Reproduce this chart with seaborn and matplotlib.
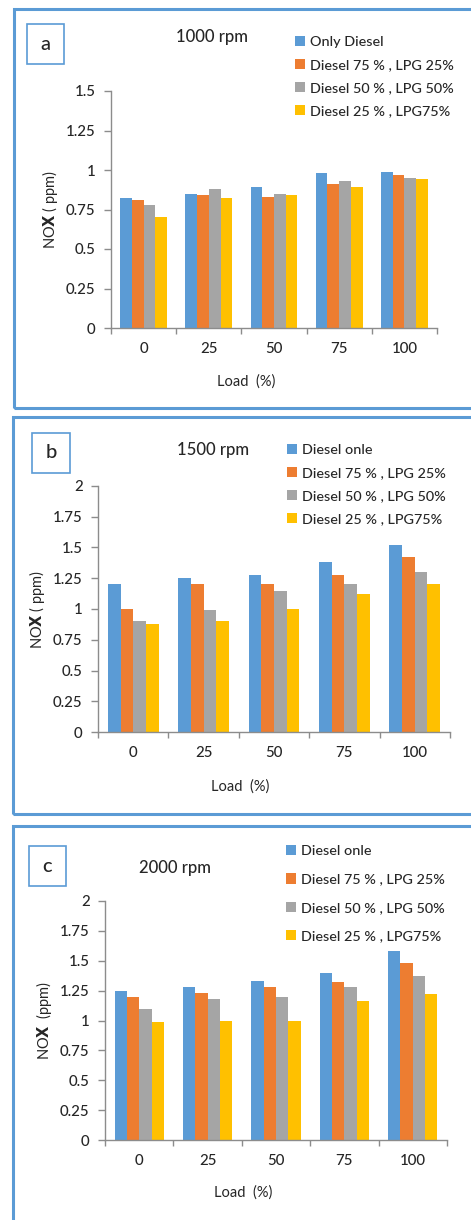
import seaborn as sns
import matplotlib.pyplot as plt
import pandas as pd
from matplotlib.patches import Rectangle
from matplotlib.ticker import FuncFormatter, FixedLocator

# Load categories on the x axis
loads = ['0', '25', '50', '75', '100']

# Series names (panel a uses a different first label)
labels_a = ['Only Diesel', 'Diesel 75 % , LPG 25%', 'Diesel 50 % , LPG 50%', 'Diesel 25 % , LPG75%']
labels_bc = ['Diesel onle', 'Diesel 75 % , LPG 25%', 'Diesel 50 % , LPG 50%', 'Diesel 25 % , LPG75%']

# NOx (ppm), 1000 rpm
nox_1000_diesel = [0.82, 0.85, 0.89, 0.98, 0.99]
nox_1000_d75 = [0.81, 0.84, 0.83, 0.91, 0.97]
nox_1000_d50 = [0.78, 0.88, 0.85, 0.93, 0.95]
nox_1000_d25 = [0.70, 0.82, 0.84, 0.89, 0.94]

# 1500 rpm
nox_1500_diesel = [1.20, 1.25, 1.28, 1.38, 1.52]
nox_1500_d75 = [1.00, 1.20, 1.20, 1.28, 1.42]
nox_1500_d50 = [0.90, 0.99, 1.15, 1.20, 1.30]
nox_1500_d25 = [0.88, 0.90, 1.00, 1.12, 1.20]

# 2000 rpm
nox_2000_diesel = [1.25, 1.28, 1.33, 1.40, 1.58]
nox_2000_d75 = [1.20, 1.23, 1.28, 1.32, 1.48]
nox_2000_d50 = [1.10, 1.18, 1.20, 1.28, 1.37]
nox_2000_d25 = [0.99, 1.00, 1.00, 1.16, 1.22]

colors = ['#5B9BD5', '#ED7D31', '#A5A5A5', '#FFC000']
box_blue = '#5B9BD5'
txt = '#262626'

sns.set_style("white")
plt.rcParams['font.family'] = ['Lato', 'DejaVu Sans']
plt.rcParams['font.weight'] = 'medium'
plt.rcParams['mathtext.fontset'] = 'custom'
plt.rcParams['mathtext.rm'] = 'Lato:medium'
plt.rcParams['mathtext.bf'] = 'DejaVu Sans:bold'

W, H = 471, 1220
fig = plt.figure(figsize=(W / 100, H / 100), dpi=100)


def fx(x):
    return x / W


def fy(y):
    return 1 - y / H


def long_df(series, labels):
    rows = []
    for vals, lab in zip(series, labels):
        for ld, v in zip(loads, vals):
            rows.append({'Load': ld, 'Fuel': lab, 'NOx': v})
    return pd.DataFrame(rows)


panels = [
    dict(series=[nox_1000_diesel, nox_1000_d75, nox_1000_d50, nox_1000_d25], labels=labels_a,
         ax=(111, 91, 437, 328), ymax=1.5, title='1000 rpm', title_xy=(212, 37),
         tag='a', tag_box=(27, 24, 64, 64), leg_xy=(295, 36), leg_space=0.75,
         ylabel=r'NO$\mathbf{X}$ ( ppm)', xlab_xy=(246, 382),
         frame=(14, 9, 560, 408)),
    dict(series=[nox_1500_diesel, nox_1500_d75, nox_1500_d50, nox_1500_d25], labels=labels_bc,
         ax=(98, 486, 450, 732), ymax=2.0, title='1500 rpm', title_xy=(213, 450),
         tag='b', tag_box=(32, 433, 70, 473), leg_xy=(287, 444), leg_space=0.75,
         ylabel=r'NO$\mathbf{X}$ ( ppm)', xlab_xy=(240, 787),
         frame=(13, 417, 560, 814)),
    dict(series=[nox_2000_diesel, nox_2000_d75, nox_2000_d50, nox_2000_d25], labels=labels_bc,
         ax=(105, 901, 447, 1140), ymax=2.0, title='2000 rpm', title_xy=(175, 868),
         tag='c', tag_box=(29, 846, 66, 886), leg_xy=(286, 845), leg_space=1.13,
         ylabel=r'NO$\mathbf{X}$  (ppm)', xlab_xy=(243, 1193),
         frame=(13, 826, 560, 1300)),
]

for p in panels:
    # outer blue frame of the panel
    x0, y0, x1, y1 = p['frame']
    fig.patches.append(Rectangle((fx(x0), fy(y1)), fx(x1 - x0), (y1 - y0) / H,
                                 transform=fig.transFigure, fill=False,
                                 edgecolor=box_blue, linewidth=2.2))
    # small letter box
    x0, y0, x1, y1 = p['tag_box']
    fig.patches.append(Rectangle((fx(x0), fy(y1)), fx(x1 - x0), (y1 - y0) / H,
                                 transform=fig.transFigure, fill=False,
                                 edgecolor=box_blue, linewidth=1.2))
    fig.text(fx((x0 + x1) / 2), fy((y0 + y1) / 2), p['tag'], ha='center', va='center',
             fontsize=14.5, color=txt)
    fig.text(fx(p['title_xy'][0]), fy(p['title_xy'][1]), p['title'], ha='center',
             va='center', fontsize=12, color=txt)

    x0, y0, x1, y1 = p['ax']
    ax = fig.add_axes([fx(x0), fy(y1), fx(x1 - x0), (y1 - y0) / H])
    df = long_df(p['series'], p['labels'])
    sns.barplot(data=df, x='Load', y='NOx', hue='Fuel', palette=colors, width=0.72,
                saturation=1, linewidth=0, ax=ax, legend=True)

    ax.set_xlim(-0.5, 4.5)
    ax.set_ylim(0, p['ymax'])
    ax.yaxis.set_major_locator(FixedLocator([i * 0.25 for i in range(int(p['ymax'] / 0.25) + 1)]))
    ax.yaxis.set_major_formatter(FuncFormatter(lambda v, _: f"{v:g}"))
    ax.set_xticks(range(5))
    ax.set_xticks([i - 0.5 for i in range(6)], minor=True)
    ax.tick_params(axis='x', which='major', length=0, pad=10, labelsize=10.8, colors=txt)
    ax.tick_params(axis='x', which='minor', length=4.5, width=1, color='#8c8c8c', direction='out')
    ax.tick_params(axis='y', length=5, width=1, color='#8c8c8c', direction='out', pad=6,
                   labelsize=10.8, labelcolor=txt)
    ax.tick_params(axis='x', labelcolor=txt)
    ax.tick_params(bottom=True, left=True, which='both')
    for s in ['top', 'right']:
        ax.spines[s].set_visible(False)
    for s in ['left', 'bottom']:
        ax.spines[s].set_color('#8c8c8c')
        ax.spines[s].set_linewidth(1)

    ax.set_ylabel(p['ylabel'], fontsize=10.5, color=txt)
    ax.set_xlabel('Load  (%)', fontsize=10.5, color=txt)
    lx, ly = p['xlab_xy']
    ax.xaxis.set_label_coords((lx - x0) / (x1 - x0), -(ly - y1) / (y1 - y0), transform=ax.transAxes)
    ax.xaxis.label.set_va('center')

    h, l = ax.get_legend_handles_labels()
    ax.legend(h, l, loc='upper left', bbox_to_anchor=(fx(p['leg_xy'][0]), fy(p['leg_xy'][1])),
              bbox_transform=fig.transFigure, frameon=False, fontsize=10.4,
              handlelength=0.7, handleheight=0.7, handletextpad=0.35,
              labelspacing=p['leg_space'], borderpad=0, borderaxespad=0, labelcolor=txt)

fig.savefig('out.png', dpi=100)
